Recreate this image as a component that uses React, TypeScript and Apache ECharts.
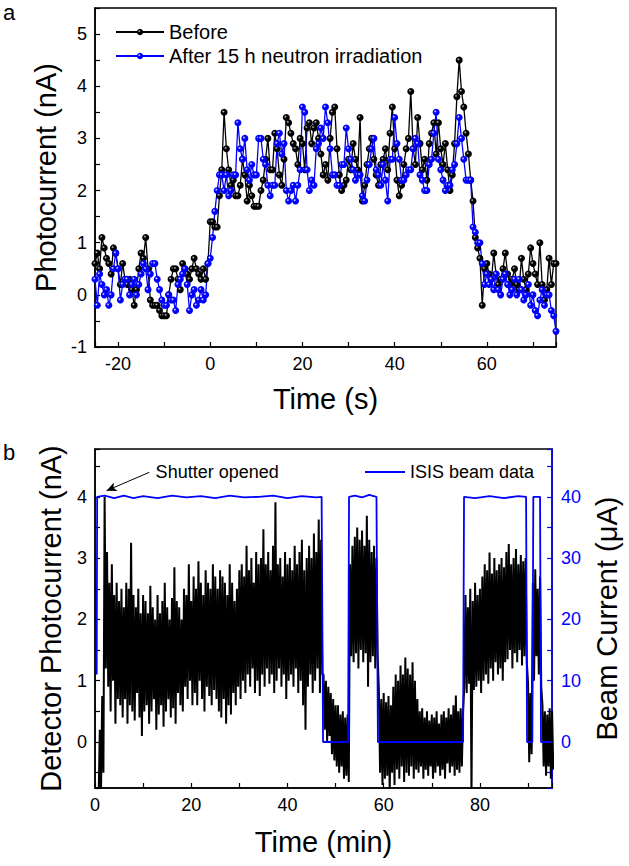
import React, { useEffect, useRef } from "react";
import * as echarts from "echarts";

const FONT = '"Liberation Sans", Arial, Helvetica, sans-serif';

// ---------- Panel a: photocurrent vs time (s), sampled every 0.5 s from -25 s ----------
const aStart = -25;
const aStep = 0.5;
const beforeValues = [
  0.6, 0.8, 0.5, 1.1, 0.9, 0.7, 0.6, 0.4, 0.9, 0.8,
  0.5, 0.2, 0.6, 0.3, 0.2, 0.3, 0.1, -0.2, 0.1, 0.5,
  0.8, 0.7, 1.1, 0.5, -0.1, -0.2, -0.2, -0.2, -0.3, -0.4,
  -0.4, -0.4, 0.0, 0.3, 0.5, 0.5, 0.3, 0.1, 0.6, 0.5,
  0.4, 0.3, 0.5, 0.7, 0.5, 0.4, 0.3, 0.5, 0.3, 0.6,
  1.4, 1.4, 1.3, 1.3, 1.9, 2.4, 3.5, 2.8, 2.4, 2.1,
  2.2, 1.9, 1.9, 2.1, 2.6, 2.3, 1.8, 2.1, 1.9, 1.7,
  1.7, 1.7, 2.0, 2.2, 2.6, 3.0, 2.4, 2.4, 3.1, 2.8,
  2.3, 2.1, 2.6, 3.4, 3.3, 3.1, 2.9, 2.8, 2.5, 3.0,
  2.9, 2.4, 3.2, 3.3, 2.9, 3.2, 3.3, 3.0, 2.7, 2.3,
  2.5, 2.2, 3.0, 3.5, 3.6, 2.8, 2.3, 2.0, 2.1, 2.2,
  2.6, 2.4, 2.9, 2.6, 2.4, 3.4, 1.8, 2.1, 2.5, 2.8,
  3.0, 2.6, 2.3, 2.1, 2.5, 2.6, 2.8, 2.4, 3.1, 3.6,
  2.8, 2.2, 1.9, 2.1, 2.5, 2.8, 3.0, 3.9, 2.8, 2.5,
  3.4, 2.9, 2.4, 2.6, 2.2, 2.9, 3.1, 3.3, 2.7, 3.3,
  2.8, 2.5, 2.9, 2.4, 2.0, 2.3, 2.9, 3.8, 4.5, 3.9,
  3.6, 3.1, 2.7, 2.2, 1.8, 1.1, 0.9, 0.7, -0.2, 0.5,
  0.6, 0.4, 0.3, 0.8, 0.4, 0.2, 0.3, 0.5, 0.8, 0.4,
  0.2, 0.3, 0.5, 0.2, 0.1, 0.7, 0.3, 0.1, 0.4, 0.9,
  0.6, 0.4, 0.2, 1.0, 0.2, -0.1, 0.1, 0.7, 0.2, 0.6,
  0.6,
];
const afterValues = [
  0.3, -0.2, 0.4, 0.2, 0.0, 0.1, -0.2, 0.0, 0.5, 0.8,
  0.5, -0.1, 0.2, 0.3, 0.3, 0.0, 0.2, 0.3, 0.0, 0.2,
  0.4, 0.6, 0.5, 0.1, 0.4, 0.6, 0.6, 0.3, 0.1, -0.1,
  -0.2, -0.2, 0.0, -0.1, -0.1, -0.3, 0.2, 0.3, 0.4, 0.5,
  0.2, -0.3, 0.0, 0.1, -0.2, -0.1, 0.1, -0.1, 0.0, 0.6,
  0.7, 1.1, 1.6, 2.0, 2.3, 2.3, 2.0, 2.3, 1.9, 2.0,
  2.3, 2.3, 3.3, 2.8, 2.6, 3.0, 2.4, 2.2, 2.5, 2.3,
  2.3, 3.0, 3.0, 2.6, 2.5, 2.1, 1.9, 2.1, 2.1, 2.9,
  3.1, 2.7, 2.9, 2.0, 1.8, 2.0, 2.1, 1.8, 2.1, 2.4,
  3.6, 3.5, 2.4, 2.0, 2.2, 2.1, 2.8, 2.9, 3.2, 3.0,
  3.6, 3.3, 2.8, 2.3, 2.3, 2.1, 2.1, 2.5, 2.5, 3.2,
  2.8, 2.6, 2.4, 2.2, 2.3, 2.3, 1.9, 1.8, 2.2, 2.5,
  2.8, 3.0, 2.4, 2.3, 2.1, 2.5, 2.2, 1.8, 2.6, 2.6,
  3.4, 2.9, 2.6, 2.2, 2.2, 2.3, 2.4, 2.4, 2.8, 3.0,
  2.9, 2.3, 2.2, 2.0, 2.0, 2.5, 2.6, 3.1, 3.5, 2.6,
  2.4, 2.2, 2.0, 2.1, 2.1, 2.4, 2.5, 2.9, 3.4, 3.0,
  2.6, 2.2, 2.2, 2.2, 1.3, 1.2, 1.0, 1.0, 0.6, 0.2,
  0.4, 0.2, 0.3, 0.1, 0.4, 0.1, 0.0, 0.3, 0.4, 0.2,
  0.0, 0.1, 0.3, 0.0, 0.3, 0.1, -0.1, 0.0, 0.2, -0.2,
  0.0, -0.3, -0.4, -0.1, 0.1, -0.2, 0.0, 0.0, -0.3, -0.4,
  -0.7,
];

// ---------- Panel b: detector photocurrent (min), upper/lower excursions every 0.5 min ----------
const bStep = 0.5;
const detectorPeaks = [
  -0.8, 0.2, 0.75, 4.0, 3.1, 2.6, 2.9, 2.4, 2.6, 2.3,
  2.5, 2.2, 2.6, 2.5, 3.25, 2.4, 2.2, 2.5, 2.1, 2.4,
  2.3, 2.1, 2.55, 2.2, 2.0, 2.4, 2.1, 2.3, 2.6, 2.2,
  2.0, 2.35, 2.85, 2.3, 2.2, 2.0, 2.5, 2.4, 2.9, 2.3,
  2.7, 2.5, 2.95, 2.6, 2.4, 2.8, 2.6, 2.5, 2.9, 2.7,
  2.5, 2.8, 2.7, 2.6, 2.4, 2.9, 2.6, 2.3, 2.5, 2.8,
  2.9, 2.7, 3.2, 2.8, 3.0, 2.6, 3.1, 2.9, 3.0, 3.47,
  2.9, 3.1, 2.8, 3.2, 3.91, 2.9, 3.0, 2.7, 3.1, 2.9,
  3.0, 2.8, 3.2, 2.9, 3.1, 3.3, 2.8, 3.0, 3.2, 3.0,
  3.4, 3.1, 3.63, 3.3, 1.1, 1.0, 0.9, 0.8, 0.7, 0.6,
  0.6, 0.45, 0.5, 0.4, 0.45, 2.9, 3.2, 3.35, 3.5, 3.3,
  3.45, 3.2, 3.69, 3.3, 3.1, 3.2, 3.0, 0.85, 0.7, 0.8,
  0.65, 0.75, 0.6, 0.9, 1.1, 1.0, 1.25, 1.1, 1.38, 1.2,
  1.1, 1.3, 1.0, 0.7, 0.5, 0.55, 0.4, 0.5, 0.35, 0.45,
  0.4, 0.5, 0.3, 0.45, 0.5, 0.4, 0.55, 0.45, 0.6, 0.76,
  0.5, 0.55, 0.5, 2.4, 2.2, 2.5, 2.3, 2.6, 2.4, 2.5,
  2.7, 2.9, 2.8, 3.09, 2.75, 3.0, 2.8, 2.9, 3.0, 2.85,
  3.1, 3.23, 2.9, 3.0, 3.15, 2.9, 3.05, 2.95, 3.0, 0.97,
  0.8, 2.6, 2.82, 2.5, 2.7, 0.6, 0.5, 0.45, 0.55, 0.5,
];
const detectorTroughs = [
  -0.9, -0.8, -0.5, 1.2, 0.9, 0.5, 1.0, 0.3, 0.7, 0.6,
  0.4, 0.7, 0.3, 0.6, 0.5, 0.35, 0.8, 0.4, 0.1, 0.5,
  0.6, 0.3, 0.5, 0.7, 0.2, 0.45, 0.6, 0.25, 0.5, 0.7,
  0.4, 0.55, 0.3, 0.8, 0.6, 0.5, 0.9, 0.7, 1.0, 0.6,
  0.8, 0.6, 1.0, 0.7, 0.5, 0.9, 0.75, 0.6, 0.85, 0.7,
  0.5, 0.4, 0.7, 0.3, 0.6, 0.45, 0.8, 0.6, 0.9, 0.7,
  1.0, 0.8, 1.1, 0.9, 1.2, 0.8, 1.0, 0.75, 1.1, 0.9,
  1.2, 0.95, 1.1, 0.8, 1.0, 1.2, 0.9, 1.1, 0.7, 1.0,
  1.1, 0.9, 1.2, 0.8, 1.0, 0.6, 0.2, 0.9, 1.1, 0.8,
  1.0, 1.2, 0.8, 1.1, 0.2, 0.0, 0.1, -0.2, -0.3, -0.4,
  -0.5, -0.4, -0.6, -0.55, -0.65, 1.4, 1.3, 1.45, 1.2, 1.5,
  1.3, 1.45, 0.9, 1.3, 1.4, 1.2, 1.4, -0.5, -0.7, -0.6,
  -0.55, -0.8, -0.5, -0.7, -0.45, -0.6, -0.4, -0.65, -0.5, -0.55,
  -0.4, -0.6, -0.45, -0.5, -0.4, -0.6, -0.45, -0.55, -0.4, -0.6,
  -0.5, -0.4, -0.55, -0.45, -0.6, -0.35, -0.5, -0.4, -0.55, -0.45,
  -0.5, -0.4, 0.9, 0.8, 0.95, -0.9, 0.85, 0.9, 1.0, 0.8,
  1.0, 1.1, 0.95, 1.2, 1.0, 1.3, 1.1, 1.2, 1.0, 1.3,
  1.35, 1.5, 1.2, 1.45, 1.3, 1.5, 1.25, 1.4, 1.3, -0.33,
  -0.2, 1.0, 1.4, 1.1, 0.9, -0.4, -0.55, -0.4, -0.6, -0.45,
];

// ISIS beam current (µA) vs time (min)
const beamTime = [
  0.35, 0.45, 2, 4, 6, 8, 10, 13, 16, 19,
  22, 25, 28, 31, 34, 37, 40, 43, 46, 47.1,
  47.4, 52.6, 52.8, 54, 55.5, 57, 58.5, 58.8, 76.5, 76.7,
  79, 82, 85, 88, 89.6, 89.8, 90.9, 91.1, 92.5, 92.7,
  95,
];
const beamCurrent = [
  11, 40, 40.2, 39.8, 40.2, 39.8, 40.1, 39.8, 40.2, 39.9,
  40.1, 39.8, 40.2, 39.9, 40.0, 40.2, 39.8, 40.1, 39.9, 40,
  0, 0, 40, 40.2, 39.9, 40.3, 40, 0, 0, 40,
  39.8, 40.1, 39.8, 40.1, 40, 0, 0, 40, 40, 0,
  0,
];

// annotation anchor points (data coordinates of panel b)
const shutterArrowFrom = [11.3, 4.4];
const shutterArrowTo = [2.4, 4.1];
const shutterLabelAt = [12.6, 4.4];

const isInt = (v: number) => Math.abs(v - Math.round(v)) < 1e-6;

function sphere(color: string, hi: string) {
  return new echarts.graphic.RadialGradient(0.38, 0.38, 0.6, [
    { offset: 0, color: hi },
    { offset: 0.35, color: color },
    { offset: 1, color: color },
  ]);
}

export default function App() {
  const ref = useRef<HTMLDivElement>(null);
  useEffect(() => {
    if (!ref.current) return;
    const chart = echarts.init(ref.current, null, { renderer: "svg" });

    const beforeData = beforeValues.map((v, i) => [aStart + i * aStep, v]);
    const afterData = afterValues.map((v, i) => [aStart + i * aStep, v]);
    const detectorData: number[][] = [];
    detectorPeaks.forEach((p, i) => {
      const t = (i + 1) * bStep;
      detectorData.push([t, p]);
      detectorData.push([t + bStep / 2, detectorTroughs[i]]);
    });
    const beamData = beamTime.map((t, i) => [t, beamCurrent[i]]);

    const axisLine = { onZero: false, lineStyle: { color: "#000", width: 1.5 } };
    const tick = { inside: true, length: 5, lineStyle: { color: "#000", width: 1.2 } };
    const lab = { fontSize: 18, color: "#000", fontFamily: FONT, margin: 8 };
    const nameStyle = { fontSize: 29, color: "#000", fontFamily: FONT };

    chart.setOption({
      animation: false,
      textStyle: { fontFamily: FONT },
      graphic: [
        { type: "text", left: 3, top: 1, style: { text: "a", font: `22px ${FONT}`, fill: "#000" } },
        { type: "text", left: 3, top: 441, style: { text: "b", font: `22px ${FONT}`, fill: "#000" } },
      ],
      grid: [
        { left: 95, top: 8, width: 461, height: 339, show: true, borderColor: "#000", borderWidth: 1.5 },
        { left: 95, top: 449, width: 461, height: 339, show: true, borderColor: "#000", borderWidth: 1.5 },
      ],
      legend: [
        {
          data: ["Before", "After 15 h neutron irradiation"],
          orient: "vertical",
          left: 115,
          top: 22,
          padding: 0,
          itemGap: 4,
          itemWidth: 48,
          itemHeight: 8,
          textStyle: { fontSize: 20, color: "#000", fontFamily: FONT },
        },
        {
          data: [{ name: "ISIS beam data", icon: "rect" }],
          left: 365,
          top: 463,
          padding: 0,
          itemWidth: 40,
          itemHeight: 2,
          textStyle: { fontSize: 18, color: "#000", fontFamily: FONT },
        },
      ],
      xAxis: [
        {
          gridIndex: 0, type: "value", min: -25, max: 75, splitNumber: 10,
          axisLine, axisTick: tick, splitLine: { show: false },
          axisLabel: { ...lab, formatter: (v: number) => (v % 20 === 0 ? String(v) : "") },
          name: "Time (s)", nameLocation: "middle", nameGap: 37, nameTextStyle: nameStyle,
        },
        {
          gridIndex: 1, type: "value", min: 0, max: 95, interval: 10,
          axisLine, axisTick: tick, splitLine: { show: false },
          axisLabel: { ...lab, formatter: (v: number) => (v % 20 === 0 ? String(v) : "") },
          name: "Time (min)", nameLocation: "middle", nameGap: 39, nameTextStyle: nameStyle,
        },
      ],
      yAxis: [
        {
          gridIndex: 0, type: "value", min: -1, max: 5.5, interval: 0.5,
          axisLine, axisTick: tick, splitLine: { show: false },
          axisLabel: { ...lab, formatter: (v: number) => (isInt(v) ? String(Math.round(v)) : "") },
          name: "Photocurrent (nA)", nameLocation: "middle", nameGap: 30, nameTextStyle: nameStyle,
        },
        {
          gridIndex: 1, type: "value", min: -0.75, max: 4.78, splitNumber: 11,
          axisLine, axisTick: tick, splitLine: { show: false },
          axisLabel: { ...lab, formatter: (v: number) => (isInt(v) ? String(Math.round(v)) : "") },
          name: "Detector Photocurrent (nA)", nameLocation: "middle", nameGap: 30, nameTextStyle: nameStyle,
        },
        {
          gridIndex: 1, type: "value", position: "right", min: -7.5, max: 47.8, splitNumber: 11,
          axisLine: { onZero: false, lineStyle: { color: "#0000ff", width: 1.5 } },
          axisTick: { inside: true, length: 5, lineStyle: { color: "#0000ff", width: 1.2 } },
          splitLine: { show: false },
          axisLabel: {
            ...lab, color: "#0000ff", margin: 9,
            formatter: (v: number) => (isInt(v / 10) ? String(Math.round(v)) : ""),
          },
          name: "Beam Current (μA)", nameLocation: "middle", nameGap: 38, nameTextStyle: nameStyle,
        },
      ],
      series: [
        {
          name: "Before", type: "line", xAxisIndex: 0, yAxisIndex: 0, data: beforeData,
          symbol: "circle", symbolSize: 7, showAllSymbol: true,
          lineStyle: { color: "#000", width: 1.3 },
          itemStyle: { color: sphere("#000000", "#d8d8d8") },
        },
        {
          name: "After 15 h neutron irradiation", type: "line", xAxisIndex: 0, yAxisIndex: 0, data: afterData,
          symbol: "circle", symbolSize: 7, showAllSymbol: true,
          lineStyle: { color: "#0000ff", width: 1.3 },
          itemStyle: { color: sphere("#0000ff", "#ffffff") },
        },
        {
          name: "Detector photocurrent", type: "line", xAxisIndex: 1, yAxisIndex: 1, data: detectorData,
          symbol: "none",
          lineStyle: { color: "#000", width: 2 },
          itemStyle: { color: "#000" },
          markLine: {
            silent: true,
            symbol: ["none", "arrow"],
            symbolSize: [7, 10],
            label: { show: false },
            lineStyle: { color: "#000", width: 1, type: "solid" },
            data: [[{ coord: shutterArrowFrom }, { coord: shutterArrowTo }]],
          },
          markPoint: {
            silent: true,
            symbol: "circle",
            symbolSize: 0,
            data: [
              {
                coord: shutterLabelAt,
                label: {
                  show: true, position: "right", distance: 0,
                  formatter: "Shutter opened", fontSize: 18, color: "#000", fontFamily: FONT,
                },
              },
            ],
          },
        },
        {
          name: "ISIS beam data", type: "line", xAxisIndex: 1, yAxisIndex: 2, data: beamData,
          symbol: "none",
          lineStyle: { color: "#0000ff", width: 1.8 },
          itemStyle: { color: "#0000ff" },
        },
      ],
    });
    return () => chart.dispose();
  }, []);
  return <div ref={ref} style={{ position: "absolute", left: 0, top: 0, width: 629, height: 866 }} />;
}
